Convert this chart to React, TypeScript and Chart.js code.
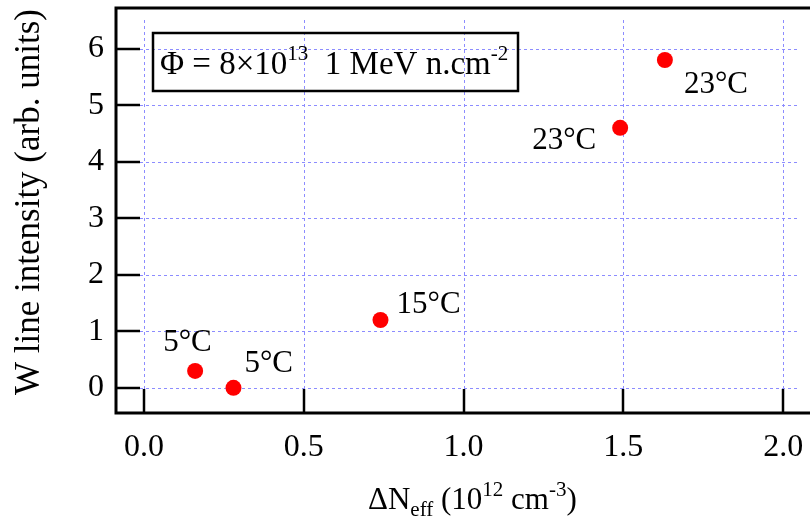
import React, { useEffect, useRef } from "react";
import { Chart, registerables } from "chart.js";

Chart.register(...registerables);

const xValues = [0.16, 0.28, 0.74, 1.49, 1.63];
const yValues = [0.3, 0.0, 1.2, 4.6, 5.8];
const pointLabels = ["5°C", "5°C", "15°C", "23°C", "23°C"];
const xTicks = [0, 0.5, 1.0, 1.5, 2.0];
const yTicks = [0, 1, 2, 3, 4, 5, 6];

// label placement relative to point centres (pixels): [dx, dy] to text left / baseline
const labelOffsets: [number, number][] = [
  [-32, -20],
  [11, -16],
  [16, -7],
  [-88, 21],
  [19, 33],
];

const FONT = "'Liberation Serif', 'Times New Roman', serif";

const framePlugin = {
  id: "framePlugin",
  beforeDatasetsDraw(chart: any) {
    const { ctx, chartArea } = chart;
    const xs = chart.scales.x;
    const ys = chart.scales.y;
    const L = chartArea.left;
    const B = chartArea.bottom;
    const T = chartArea.top;
    const R = chart.width;
    const tickLen = 24;
    ctx.save();
    // dotted grid
    ctx.strokeStyle = "#8c8cff";
    ctx.lineWidth = 1;
    ctx.setLineDash([3, 3]);
    for (const v of xTicks) {
      const px = Math.round(xs.getPixelForValue(v)) + 0.5;
      ctx.beginPath();
      ctx.moveTo(px, T + 12);
      ctx.lineTo(px, B - tickLen);
      ctx.stroke();
    }
    for (const v of yTicks) {
      const py = Math.round(ys.getPixelForValue(v)) + 0.5;
      ctx.beginPath();
      ctx.moveTo(L + tickLen, py);
      ctx.lineTo(R - 10, py);
      ctx.stroke();
    }
    ctx.setLineDash([]);
    // ticks
    ctx.strokeStyle = "#000";
    ctx.lineWidth = 2.5;
    for (const v of xTicks) {
      const px = Math.round(xs.getPixelForValue(v));
      ctx.beginPath();
      ctx.moveTo(px, B);
      ctx.lineTo(px, B - tickLen);
      ctx.stroke();
    }
    for (const v of yTicks) {
      const py = Math.round(ys.getPixelForValue(v));
      ctx.beginPath();
      ctx.moveTo(L, py);
      ctx.lineTo(L + tickLen, py);
      ctx.stroke();
    }
    // frame
    ctx.lineWidth = 3;
    ctx.beginPath();
    ctx.moveTo(R, T);
    ctx.lineTo(L, T);
    ctx.lineTo(L, B);
    ctx.lineTo(R, B);
    ctx.stroke();

    // annotation box
    ctx.lineWidth = 2.5;
    ctx.strokeRect(153, 33, 365, 58);
    ctx.fillStyle = "#000";
    ctx.textBaseline = "alphabetic";
    ctx.textAlign = "left";
    const drawRuns = (x: number, y: number, runs: [string, string, number][]) => {
      let cx = x;
      for (const [txt, f, dy] of runs) {
        ctx.font = f;
        ctx.fillText(txt, cx, y + dy);
        cx += ctx.measureText(txt).width;
      }
    };
    drawRuns(160, 74, [
      ["Φ = 8×10", `33px ${FONT}`, 0],
      ["13", `21px ${FONT}`, -14],
      ["  1 MeV n.cm", `33px ${FONT}`, 0],
      ["-2", `21px ${FONT}`, -14],
    ]);
    // x title
    drawRuns(368, 509, [
      ["ΔN", `31px ${FONT}`, 0],
      ["eff", `21px ${FONT}`, 7],
      [" (10", `31px ${FONT}`, 0],
      ["12", `21px ${FONT}`, -13],
      [" cm", `31px ${FONT}`, 0],
      ["-3", `21px ${FONT}`, -13],
      [")", `31px ${FONT}`, 0],
    ]);
    // y title
    ctx.save();
    ctx.translate(30, 202);
    ctx.rotate(-Math.PI / 2);
    ctx.font = `35px ${FONT}`;
    ctx.textAlign = "center";
    ctx.textBaseline = "middle";
    ctx.fillText("W line intensity (arb. units)", 0, 0);
    ctx.restore();
    ctx.restore();
  },
  afterDatasetsDraw(chart: any) {
    const { ctx } = chart;
    const xs = chart.scales.x;
    const ys = chart.scales.y;
    ctx.save();
    ctx.fillStyle = "#000";
    ctx.font = `31px ${FONT}`;
    ctx.textAlign = "left";
    ctx.textBaseline = "alphabetic";
    pointLabels.forEach((t, i) => {
      const px = xs.getPixelForValue(xValues[i]);
      const py = ys.getPixelForValue(yValues[i]);
      ctx.fillText(t, px + labelOffsets[i][0], py + labelOffsets[i][1]);
    });
    ctx.restore();
  },
};

export default function App() {
  const ref = useRef<HTMLCanvasElement | null>(null);
  useEffect(() => {
    if (!ref.current) return;
    const chart = new Chart(ref.current, {
      type: "scatter",
      data: {
        datasets: [
          {
            data: xValues.map((x, i) => ({ x, y: yValues[i] })),
            pointRadius: 8,
            pointHoverRadius: 8,
            backgroundColor: "#ff0000",
            borderWidth: 0,
          },
        ],
      },
      options: {
        animation: false,
        responsive: false,
        maintainAspectRatio: false,
        layout: { padding: { top: 6, right: 0, left: 0, bottom: 0 } },
        plugins: { legend: { display: false }, tooltip: { enabled: false } },
        scales: {
          x: {
            type: "linear",
            min: -0.0876,
            max: 2.059,
            grid: { display: false, drawTicks: false },
            border: { display: false },
            afterBuildTicks: (s: any) => {
              s.ticks = xTicks.map((v) => ({ value: v }));
            },
            afterFit: (s: any) => {
              s.height = 109;
              s.paddingLeft = 0;
              s.paddingRight = 0;
            },
            ticks: {
              color: "#000",
              font: { family: FONT, size: 32 },
              padding: 15,
              maxRotation: 0,
              autoSkip: false,
              callback: (v: any) => Number(v).toFixed(1),
            },
          },
          y: {
            type: "linear",
            min: -0.445,
            max: 6.72,
            grid: { display: false, drawTicks: false },
            border: { display: false },
            afterBuildTicks: (s: any) => {
              s.ticks = yTicks.map((v) => ({ value: v }));
            },
            afterFit: (s: any) => {
              s.width = 116;
              s.paddingTop = 0;
              s.paddingBottom = 0;
            },
            ticks: {
              color: "#000",
              font: { family: FONT, size: 32 },
              padding: 12,
              autoSkip: false,
              callback: (v: any) => String(v),
            },
          },
        },
      },
      plugins: [framePlugin],
    });
    return () => chart.destroy();
  }, []);
  return (
    <div style={{ position: "absolute", left: 0, top: 0, width: 810, height: 522, background: "#fff" }}>
      <canvas ref={ref} width={810} height={522} style={{ width: 810, height: 522 }} />
    </div>
  );
}
